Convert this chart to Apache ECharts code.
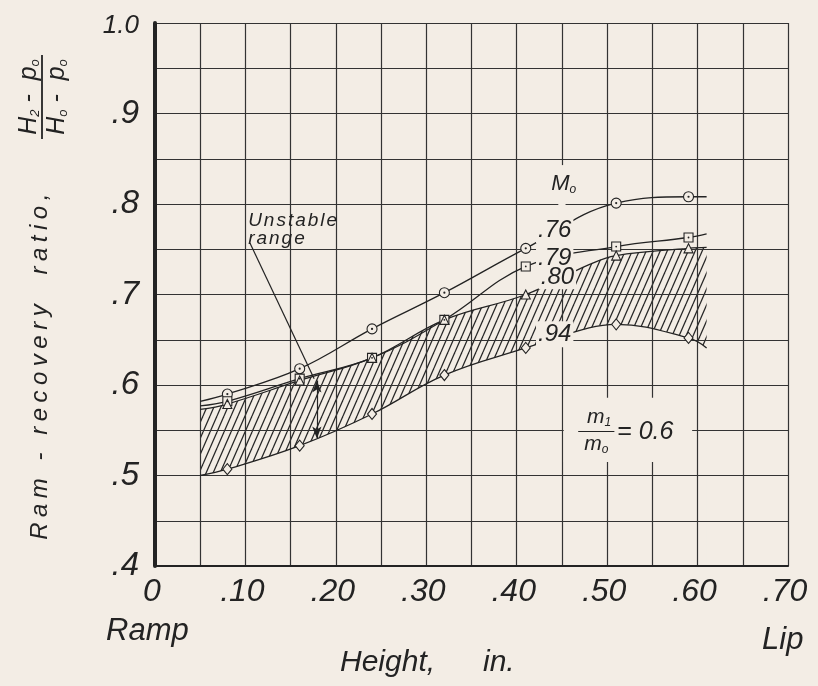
<!DOCTYPE html>
<html>
<head>
<meta charset="utf-8">
<script src="https://cdn.jsdelivr.net/npm/echarts@6/dist/echarts.min.js"></script>
<style>
html,body{margin:0;padding:0;background:#f3ede5;}
#chart{width:818px;height:686px;}
</style>
</head>
<body>
<div id="chart"></div>
<script>
// ---------- values ----------
const xTickLabels = ['0', '.10', '.20', '.30', '.40', '.50', '.60', '.70'];
const yTickLabels = ['.4', '.5', '.6', '.7', '.8', '.9', '1.0'];

const pointX    = [0.08, 0.16, 0.24, 0.32, 0.41, 0.51, 0.59];
const circleY   = [0.590, 0.618, 0.662, 0.702, 0.751, 0.801, 0.808]; // M0 = .76
const squareY   = [0.582, 0.607, 0.630, 0.672, 0.731, 0.753, 0.763]; // M0 = .79
const triangleY = [0.579, 0.605, 0.630, 0.672, 0.700, 0.743, 0.751]; // M0 = .80
const diamondY  = [0.507, 0.533, 0.568, 0.611, 0.641, 0.667, 0.652]; // M0 = .94

const curveX   = [0.05, 0.08, 0.16, 0.24, 0.32, 0.41, 0.51, 0.59, 0.61];
const curve76Y = [0.582, 0.590, 0.618, 0.662, 0.702, 0.751, 0.801, 0.808, 0.808];
const curve79Y = [0.577, 0.582, 0.607, 0.630, 0.672, 0.731, 0.753, 0.763, 0.767];

const bandX    = [0.05, 0.08, 0.16, 0.24, 0.32, 0.41, 0.48, 0.51, 0.59, 0.61];
const curve80Y = [0.573, 0.579, 0.605, 0.630, 0.672, 0.700, 0.733, 0.743, 0.751, 0.752];
const curve94Y = [0.500, 0.507, 0.533, 0.568, 0.611, 0.641, 0.663, 0.667, 0.652, 0.641];

const machLabels = ['.76', '.79', '.80', '.94'];

// ---------- styling ----------
const PAPER = '#f3ede5';
const INK = '#232323';
const FONT = '"Liberation Sans", Arial, sans-serif';
const SMOOTH = 0.4;

const pairs = (xs, ys) => xs.map((x, i) => [x, ys[i]]);

function hatchCanvas() {
  const w = 7, h = 16;
  const c = document.createElement('canvas');
  c.width = w; c.height = h;
  const g = c.getContext('2d');
  g.strokeStyle = '#262626';
  g.lineWidth = 1.3;
  [-w, 0, w].forEach(dx => {
    g.beginPath(); g.moveTo(dx, h); g.lineTo(dx + w, 0); g.stroke();
  });
  return c;
}

function spaced(str, cls) {
  return str.split('').map(ch => '{' + cls + '|' + (ch === ' ' ? '\u00a0' : ch) + '}').join('');
}

const curveLine = { color: INK, width: 1.3 };
const markerStyle = { color: PAPER, borderColor: INK, borderWidth: 1.1, opacity: 1 };
const subRich = (size) => ({
  m: { fontFamily: FONT, fontStyle: 'italic', fontSize: size, color: INK, lineHeight: size + 2 },
  s: { fontFamily: FONT, fontStyle: 'italic', fontSize: 12, color: INK, verticalAlign: 'bottom', lineHeight: 14 }
});

const chart = echarts.init(document.getElementById('chart'), null, { renderer: 'canvas' });

const option = {
  backgroundColor: PAPER,
  animation: false,
  grid: { left: 155, right: 30, top: 23, bottom: 120, containLabel: false },
  xAxis: {
    type: 'value', min: 0, max: 0.7, interval: 0.05, z: 3,
    axisLine: { show: true, onZero: false, lineStyle: { color: INK, width: 2.2 } },
    axisTick: { show: false },
    splitLine: { show: true, lineStyle: { color: '#333', width: 1.2 } },
    axisLabel: {
      margin: 10, fontFamily: FONT, fontStyle: 'italic', fontSize: 32, color: INK,
      padding: [0, 6, 0, 0],
      formatter: v => { const k = Math.round(v * 20); return k % 2 ? '' : xTickLabels[k / 2]; }
    }
  },
  yAxis: {
    type: 'value', min: 0.4, max: 1.0, interval: 0.05, z: 3,
    axisLine: { show: true, onZero: false, lineStyle: { color: INK, width: 4 } },
    axisTick: { show: false },
    splitLine: { show: true, lineStyle: { color: '#333', width: 1.2 } },
    axisLabel: {
      margin: 16, fontFamily: FONT, fontStyle: 'italic', fontSize: 33, color: INK,
      formatter: v => {
        const k = Math.round((v - 0.4) * 20);
        if (k % 2) return '';
        const t = yTickLabels[k / 2];
        return t === '1.0' ? '{s|' + t + '}' : t;
      },
      rich: { s: { fontFamily: FONT, fontStyle: 'italic', fontSize: 26, color: INK, padding: [6, 0, 0, 0] } }
    }
  },
  series: [
    { // hatched unstable band: hatch under the M0=.80 curve ...
      type: 'line', data: pairs(bandX, curve80Y), smooth: SMOOTH, symbol: 'none', z: 1,
      lineStyle: { width: 0 }, silent: true,
      areaStyle: { origin: 'start', color: { image: hatchCanvas(), repeat: 'repeat' }, opacity: 1 }
    },
    { // ... cleared again under the M0=.94 curve
      type: 'line', data: pairs(bandX, curve94Y), smooth: SMOOTH, symbol: 'none', z: 2,
      lineStyle: { width: 0 }, silent: true,
      areaStyle: { origin: 'start', color: PAPER, opacity: 1 },
      markArea: { // trims the anti-aliased seam at the band's right edge
        silent: true, z: 2, label: { show: false }, itemStyle: { color: PAPER },
        data: [[{ coord: [0.6085, 0.4] }, { coord: [0.616, 0.642] }],
               [{ coord: [0.044, 0.4] }, { coord: [0.0515, 0.5] }]]
      }
    },
    { // gridline gaps around the lettering
      type: 'line', data: [], z: 4,
      markArea: {
        silent: true, z: 4, label: { show: false },
        itemStyle: { color: PAPER },
        data: [
          [{ coord: [0.452, 0.515] }, { coord: [0.594, 0.586] }],
          [{ coord: [0.446, 0.713] }, { coord: [0.454, 0.843] }]
        ]
      }
    },
    { type: 'line', name: '.76', data: pairs(curveX, curve76Y), smooth: SMOOTH, symbol: 'none', lineStyle: curveLine, z: 5 },
    { type: 'line', name: '.79', data: pairs(curveX, curve79Y), smooth: SMOOTH, symbol: 'none', lineStyle: curveLine, z: 5 },
    { type: 'line', name: '.80', data: pairs(bandX, curve80Y), smooth: SMOOTH, symbol: 'none', lineStyle: curveLine, z: 5 },
    { type: 'line', name: '.94', data: pairs(bandX, curve94Y), smooth: SMOOTH, symbol: 'none', lineStyle: curveLine, z: 5 },
    { type: 'scatter', data: pairs(pointX, circleY), symbol: 'circle', symbolSize: 10, itemStyle: markerStyle, z: 6 },
    { type: 'scatter', data: pairs(pointX, squareY), symbol: 'rect', symbolSize: 9, itemStyle: markerStyle, z: 6 },
    { type: 'scatter', data: pairs(pointX, triangleY), symbol: 'triangle', symbolSize: 9, itemStyle: markerStyle, z: 6 },
    { type: 'scatter', data: pairs(pointX, diamondY), symbol: 'diamond', symbolSize: [9, 11], itemStyle: markerStyle, z: 6 },
    { type: 'scatter', data: pairs(pointX, circleY), symbol: 'circle', symbolSize: 2.2, itemStyle: { color: INK, opacity: 1 }, z: 7 },
    { type: 'scatter', data: pairs(pointX, squareY), symbol: 'circle', symbolSize: 1.8, itemStyle: { color: INK, opacity: 1 }, z: 7 },
    { // lettering inside the plot
      type: 'scatter', z: 10, symbolSize: 0, silent: true,
      itemStyle: { opacity: 1 },
      label: { show: true, position: 'inside', fontFamily: FONT, fontStyle: 'italic', color: INK },
      data: [
        { value: [0.452, 0.822], label: { formatter: '{m|M}{s|o}', backgroundColor: PAPER, padding: [6, 3], rich: subRich(22) } },
        { value: [0.442, 0.771], label: { formatter: machLabels[0], fontSize: 24, backgroundColor: PAPER, padding: [1, 2] } },
        { value: [0.442, 0.740], label: { formatter: machLabels[1], fontSize: 24, backgroundColor: PAPER, padding: [1, 2] } },
        { value: [0.445, 0.719], label: { formatter: machLabels[2], fontSize: 24, backgroundColor: PAPER, padding: [0, 2] } },
        { value: [0.442, 0.656], label: { formatter: machLabels[3], fontSize: 24, backgroundColor: PAPER, padding: [1, 2] } },
        { value: [0.103, 0.781], label: { align: 'left', formatter: spaced('Unstable', 'u'),
            rich: { u: { fontFamily: FONT, fontStyle: 'italic', fontSize: 19, color: INK, padding: [0, 2, 0, 0] } } } },
        { value: [0.103, 0.762], label: { align: 'left', formatter: spaced('range', 'u'),
            rich: { u: { fontFamily: FONT, fontStyle: 'italic', fontSize: 19, color: INK, padding: [0, 2, 0, 0] } } } },
        { value: [0.491, 0.565], label: { formatter: '{m|m}{s|1}', rich: subRich(21) } },
        { value: [0.488, 0.535], label: { formatter: '{m|m}{s|o}', rich: subRich(21) } },
        { value: [0.511, 0.548], label: { align: 'left', formatter: '= 0.6', fontSize: 25 } }
      ],
      markLine: {
        silent: true, symbol: 'none', animation: false, label: { show: false },
        lineStyle: { color: INK, width: 1.2, type: 'solid' },
        emphasis: { disabled: true },
        data: [
          [{ coord: [0.105, 0.757] }, { coord: [0.176, 0.607] }],
          [{ coord: [0.179, 0.605], symbol: 'arrow', symbolSize: [7, 12] },
           { coord: [0.179, 0.541], symbol: 'arrow', symbolSize: [7, 12] }],
          [{ coord: [0.468, 0.549] }, { coord: [0.508, 0.549] }]
        ]
      }
    }
  ],
  graphic: [
    { type: 'text', left: 340, top: 648, style: { text: 'Height,', font: 'italic 30px ' + FONT, fill: INK } },
    { type: 'text', left: 483, top: 648, style: { text: 'in.', font: 'italic 30px ' + FONT, fill: INK } },
    { type: 'text', left: 106, top: 616, style: { text: 'Ramp', font: 'italic 31px ' + FONT, fill: INK } },
    { type: 'text', left: 762, top: 625, style: { text: 'Lip', font: 'italic 31px ' + FONT, fill: INK } },
    {
      type: 'group', x: 40, y: 364, rotation: Math.PI / 2,
      children: [{
        type: 'text', x: 0, y: 0,
        style: {
          text: spaced('Ram - recovery  ratio,', 'r'), align: 'center', verticalAlign: 'middle',
          rich: { r: { fontFamily: FONT, fontStyle: 'italic', fontSize: 24, fill: INK, padding: [0, 5.5, 0, 0] } }
        }
      }]
    },
    {
      type: 'group', x: 42, y: 97, rotation: Math.PI / 2,
      children: [
        { type: 'text', x: 0, y: -13, style: {
            text: '{b|H}{s|2}{b| -  p}{s|o}', align: 'center', verticalAlign: 'middle',
            rich: { b: { fontFamily: FONT, fontStyle: 'italic', fontSize: 25, fill: INK, lineHeight: 26 },
                    s: { fontFamily: FONT, fontStyle: 'italic', fontSize: 13, fill: INK, verticalAlign: 'bottom', lineHeight: 14 } } } },
        { type: 'line', shape: { x1: -42, y1: 0, x2: 42, y2: 0 }, style: { stroke: INK, lineWidth: 1.8 } },
        { type: 'text', x: 0, y: 15, style: {
            text: '{b|H}{s|o}{b| -  p}{s|o}', align: 'center', verticalAlign: 'middle',
            rich: { b: { fontFamily: FONT, fontStyle: 'italic', fontSize: 25, fill: INK, lineHeight: 26 },
                    s: { fontFamily: FONT, fontStyle: 'italic', fontSize: 13, fill: INK, verticalAlign: 'bottom', lineHeight: 14 } } } }
      ]
    }
  ]
};

chart.setOption(option);
</script>
</body>
</html>
